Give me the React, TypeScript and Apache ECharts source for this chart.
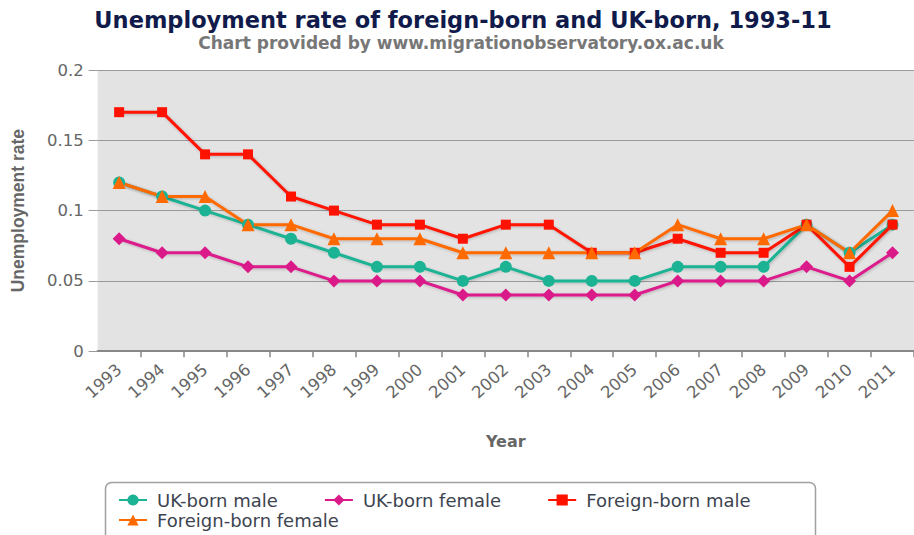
import React, { useEffect, useRef } from "react";
import * as echarts from "echarts";

const years = ["1993","1994","1995","1996","1997","1998","1999","2000","2001","2002","2003","2004","2005","2006","2007","2008","2009","2010","2011"];
const ukBornMale = [0.12,0.11,0.10,0.09,0.08,0.07,0.06,0.06,0.05,0.06,0.05,0.05,0.05,0.06,0.06,0.06,0.09,0.07,0.09];
const ukBornFemale = [0.08,0.07,0.07,0.06,0.06,0.05,0.05,0.05,0.04,0.04,0.04,0.04,0.04,0.05,0.05,0.05,0.06,0.05,0.07];
const foreignBornMale = [0.17,0.17,0.14,0.14,0.11,0.10,0.09,0.09,0.08,0.09,0.09,0.07,0.07,0.08,0.07,0.07,0.09,0.06,0.09];
const foreignBornFemale = [0.12,0.11,0.11,0.09,0.09,0.08,0.08,0.08,0.07,0.07,0.07,0.07,0.07,0.09,0.08,0.08,0.09,0.07,0.10];
const yMin = 0;
const yMax = 0.2;
const yInterval = 0.05;

const seriesNames = ["UK-born male", "UK-born female", "Foreign-born male", "Foreign-born female"];

function mk(name: string, data: number[], color: string, symbol: string, size: number) {
  return {
    name,
    type: "line",
    data,
    symbol,
    symbolSize: size,
    showSymbol: true,
    itemStyle: { color },
    lineStyle: {
      color,
      width: 3,
      shadowColor: "rgba(0,0,0,0.22)",
      shadowBlur: 3,
      shadowOffsetX: 1,
      shadowOffsetY: 1,
    },
    emphasis: { disabled: true },
  };
}

const legendText = {
  fontFamily: "DejaVu Sans",
  fontSize: 18,
  color: "#3d4450",
  padding: [0, 0, 0, 5],
};

export default function App() {
  const ref = useRef<HTMLDivElement>(null);
  useEffect(() => {
    if (!ref.current) return;
    const chart = echarts.init(ref.current, null, { renderer: "svg" });
    chart.setOption({
      animation: false,
      backgroundColor: "#ffffff",
      title: [
        {
          text: "Unemployment rate of foreign-born and UK-born, 1993-11",
          left: 463,
          textAlign: "center",
          top: 8,
          padding: 0,
          textStyle: { fontFamily: "DejaVu Sans", fontWeight: "bold", fontSize: 22.5, color: "#111b4b" },
        },
        {
          text: "Chart provided by www.migrationobservatory.ox.ac.uk",
          left: 461,
          textAlign: "center",
          top: 34,
          padding: 0,
          textStyle: { fontFamily: "DejaVu Sans", fontWeight: "bold", fontSize: 17, color: "#777777" },
        },
      ],
      grid: {
        left: 97.65,
        top: 70,
        width: 822.7,
        height: 281.2,
        show: true,
        backgroundColor: "#e3e3e3",
        borderWidth: 0,
        containLabel: false,
      },
      xAxis: {
        type: "category",
        data: years,
        boundaryGap: true,
        name: "Year",
        nameLocation: "middle",
        nameGap: 82,
        nameTextStyle: { fontFamily: "DejaVu Sans", fontWeight: "bold", fontSize: 16, color: "#666666" },
        axisLine: { show: true, lineStyle: { color: "#888888", width: 2 } },
        axisTick: {
          show: true,
          length: 6,
          interval: (i: number) => i !== 0,
          lineStyle: { color: "#888888", width: 1.5 },
        },
        axisLabel: {
          rotate: 42,
          margin: 16,
          fontFamily: "DejaVu Sans",
          fontSize: 16.5,
          color: "#666666",
        },
        splitLine: { show: false },
      },
      yAxis: {
        type: "value",
        min: yMin,
        max: yMax,
        interval: yInterval,
        name: "Unemployment rate",
        nameLocation: "middle",
        nameGap: 71,
        nameTextStyle: { fontFamily: "Liberation Sans", fontWeight: "bold", fontSize: 17.5, color: "#666666" },
        axisLine: { show: false },
        axisTick: { show: true, length: 9, lineStyle: { color: "#999999", width: 1 } },
        axisLabel: { margin: 14, fontFamily: "DejaVu Sans", fontSize: 16.5, color: "#666666" },
        splitLine: { show: true, lineStyle: { color: "#999999", width: 1.2 } },
      },
      legend: [
        {
          data: seriesNames.slice(0, 3),
          left: 118,
          top: 491,
          padding: 0,
          itemWidth: 28,
          itemHeight: 14,
          itemGap: 46,
          textStyle: legendText,
          selectedMode: false,
        },
        {
          data: seriesNames.slice(3),
          left: 118,
          top: 511,
          padding: 0,
          itemWidth: 28,
          itemHeight: 14,
          itemGap: 46,
          textStyle: legendText,
          selectedMode: false,
        },
      ],
      graphic: [
        {
          type: "rect",
          silent: true,
          z: 0,
          shape: { x: 105.5, y: 482.5, width: 710, height: 70, r: 6 },
          style: { fill: "#ffffff", stroke: "#a0a0a0", lineWidth: 1.5 },
        },
      ],
      series: [
        mk(seriesNames[0], ukBornMale, "#1bb394", "circle", 12),
        mk(seriesNames[1], ukBornFemale, "#db1a8a", "diamond", 13),
        mk(seriesNames[2], foreignBornMale, "#ff1200", "rect", 10),
        mk(seriesNames[3], foreignBornFemale, "#ff6a00", "triangle", 13),
      ],
    });
    return () => chart.dispose();
  }, []);
  return (
    <div
      ref={ref}
      style={{ position: "fixed", left: 0, top: 0, width: 914, height: 535 }}
    />
  );
}
